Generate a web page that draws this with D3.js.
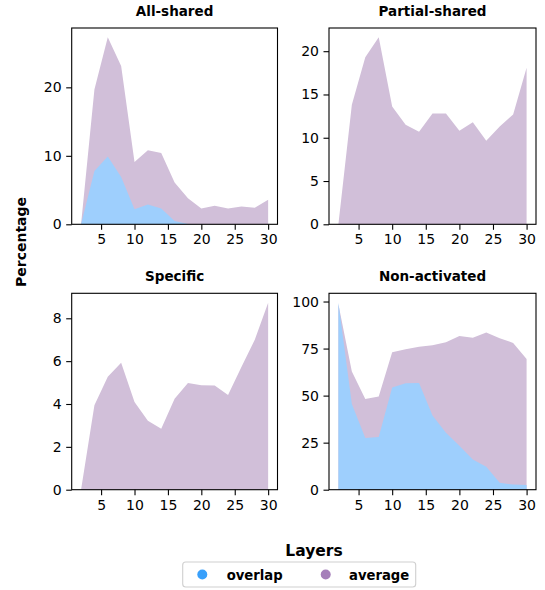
<!DOCTYPE html>
<html>
<head>
<meta charset="utf-8">
<script src="https://cdn.jsdelivr.net/npm/d3@7"></script>
<style>
  html, body { margin: 0; padding: 0; background: #fff; }
  svg { display: block; font-family: "DejaVu Sans", sans-serif; }
</style>
</head>
<body>
<svg id="chart" width="545" height="590"></svg>
<script>
// Layer indices shared by all panels
const layers = [2, 4, 6, 8, 10, 12, 14, 16, 18, 20, 22, 24, 26, 28, 30];

// Panel titles
const panelTitles = ["All-shared", "Partial-shared", "Specific", "Non-activated"];

// Average percentage per layer
const avgAllShared     = [0, 19.7, 27.3, 23.1, 9.1, 10.8, 10.4, 6.1, 3.8, 2.3, 2.7, 2.3, 2.6, 2.4, 3.6];
const avgPartialShared = [0, 13.8, 19.3, 21.6, 13.6, 11.5, 10.7, 12.8, 12.8, 10.8, 11.8, 9.65, 11.3, 12.7, 18.1];
const avgSpecific      = [0, 3.94, 5.27, 5.92, 4.09, 3.22, 2.84, 4.25, 4.98, 4.87, 4.86, 4.42, 5.73, 7.0, 8.73];
const avgNonActivated  = [98.6, 62.8, 48.2, 49.5, 73.0, 74.6, 75.9, 76.8, 78.4, 81.7, 80.7, 83.5, 80.5, 78.0, 69.5];

// Overlap percentage per layer
const ovlAllShared     = [0, 7.8, 9.9, 6.9, 2.2, 2.9, 2.3, 0.5, 0.05, 0, 0, 0, 0, 0, 0];
const ovlPartialShared = [0, 0, 0, 0, 0, 0, 0, 0, 0, 0, 0, 0, 0, 0, 0];
const ovlSpecific      = [0, 0, 0, 0, 0, 0, 0, 0, 0, 0, 0, 0, 0, 0, 0];
const ovlNonActivated  = [99.4, 45.6, 27.5, 28.0, 54.3, 56.6, 56.7, 39.4, 30.3, 23.4, 16.1, 12.2, 3.7, 2.7, 2.5];

// Tick labels
const xTicks = [5, 10, 15, 20, 25, 30];
const yTicksAllShared     = [0, 10, 20];
const yTicksPartialShared = [0, 5, 10, 15, 20];
const yTicksSpecific      = [0, 2, 4, 6, 8];
const yTicksNonActivated  = [0, 25, 50, 75, 100];

const seriesNames = ["overlap", "average"];

const averages = [avgAllShared, avgPartialShared, avgSpecific, avgNonActivated];
const overlaps = [ovlAllShared, ovlPartialShared, ovlSpecific, ovlNonActivated];
const yTickSets = [yTicksAllShared, yTicksPartialShared, yTicksSpecific, yTicksNonActivated];

// Colours
const avgFill = "#d1bfd9";
const ovlFill = "#9ecffd";
const avgDot = "#a57fba";
const ovlDot = "#39a0fb";

// Panel boxes [left, top, right, bottom]
const boxes = [
  [71.7, 28, 277.5, 224.3],
  [329, 28, 536, 224.3],
  [71.7, 293.3, 277.5, 489.7],
  [329, 293.3, 536, 489.7]
];

const svg = d3.select("#chart");
const tickFont = 14;

boxes.forEach((b, i) => {
  const [l, t, r, bt] = b;
  const x = d3.scaleLinear().domain([0.6, 31.4]).range([l, r]);
  const ymax = d3.max(averages[i].concat(overlaps[i])) * 1.05;
  const y = d3.scaleLinear().domain([0, ymax]).range([bt, t]);

  const g = svg.append("g");

  const area = d3.area()
    .x((d, k) => x(layers[k]))
    .y0(y(0))
    .y1(d => y(d));

  g.append("path").datum(averages[i]).attr("d", area).attr("fill", avgFill);
  if (d3.max(overlaps[i]) > 0) {
    g.append("path").datum(overlaps[i]).attr("d", area).attr("fill", ovlFill);
  }

  // Axes
  const xAxis = d3.axisBottom(x).tickValues(xTicks).tickSize(5.5).tickPadding(4.5).tickSizeOuter(0);
  const yAxis = d3.axisLeft(y).tickValues(yTickSets[i]).tickSize(5.5).tickPadding(4.5).tickSizeOuter(0);

  const gx = g.append("g").attr("transform", `translate(0,${bt})`).call(xAxis);
  const gy = g.append("g").attr("transform", `translate(${l},0)`).call(yAxis);
  [gx, gy].forEach(ax => {
    ax.select(".domain").remove();
    ax.selectAll(".tick line").attr("stroke", "#000").attr("stroke-width", 1.1);
    ax.selectAll(".tick text").attr("font-size", tickFont).attr("fill", "#000")
      .attr("font-family", "DejaVu Sans, sans-serif");
  });

  // Frame
  g.append("rect")
    .attr("x", l).attr("y", t)
    .attr("width", r - l).attr("height", bt - t)
    .attr("fill", "none").attr("stroke", "#000").attr("stroke-width", 1.1);

  // Title
  g.append("text")
    .attr("x", (l + r) / 2).attr("y", t - 12)
    .attr("text-anchor", "middle")
    .attr("font-size", 13.5).attr("font-weight", "bold")
    .text(panelTitles[i]);
});

// Shared axis labels
svg.append("text")
  .attr("transform", "translate(26,242) rotate(-90)")
  .attr("text-anchor", "middle")
  .attr("font-size", 14).attr("font-weight", "bold")
  .text("Percentage");

svg.append("text")
  .attr("x", 314).attr("y", 556)
  .attr("text-anchor", "middle")
  .attr("font-size", 15.5).attr("font-weight", "bold")
  .text("Layers");

// Legend
const legend = svg.append("g");
legend.append("rect")
  .attr("x", 182.7).attr("y", 562).attr("width", 233).attr("height", 25)
  .attr("rx", 3).attr("fill", "#fff").attr("stroke", "#d0d0d0").attr("stroke-width", 1.1);

const legendItems = [
  { name: seriesNames[0], color: ovlDot, cx: 202.3, tx: 226.7 },
  { name: seriesNames[1], color: avgDot, cx: 325.7, tx: 349 }
];
legendItems.forEach(it => {
  legend.append("circle").attr("cx", it.cx).attr("cy", 574.5).attr("r", 5).attr("fill", it.color);
  legend.append("text").attr("x", it.tx).attr("y", 579.5)
    .attr("font-size", 13.2).attr("font-weight", "bold").text(it.name);
});
</script>
</body>
</html>
